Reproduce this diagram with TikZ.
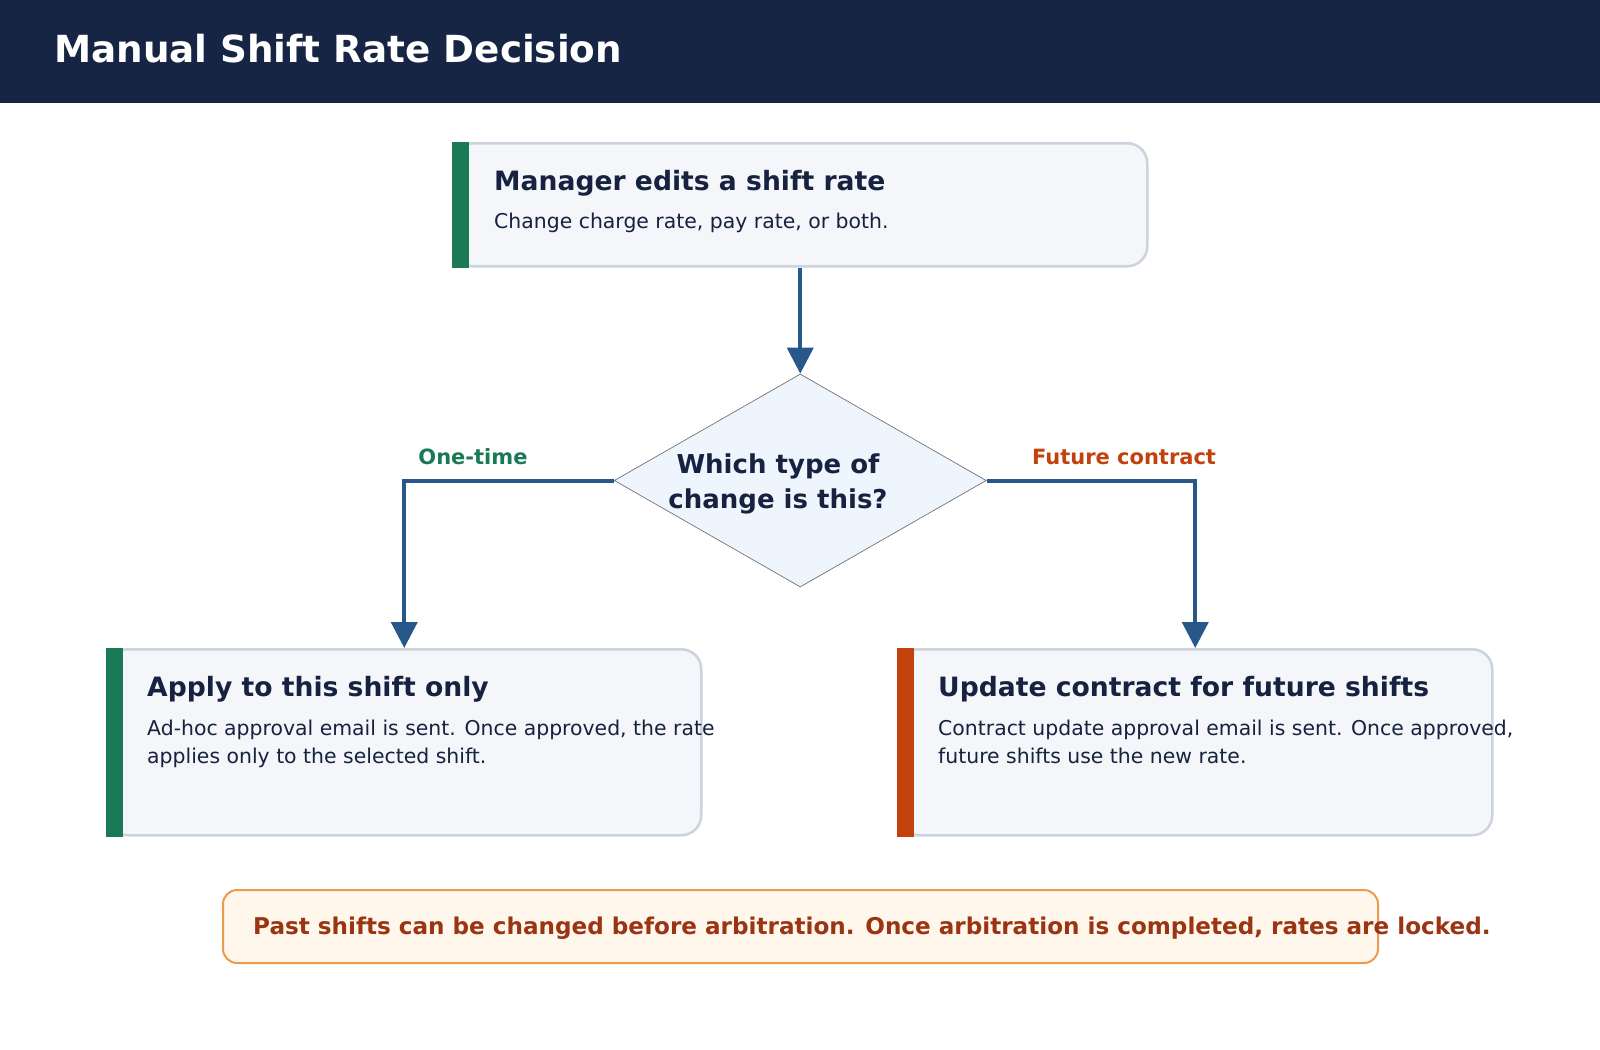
\documentclass[tikz,border=0pt]{standalone}
\usepackage{fontspec}
\setmainfont{DejaVu Sans}
\usetikzlibrary{arrows.meta,shapes.geometric,positioning}

\definecolor{navy}{HTML}{172544}
\definecolor{ink}{HTML}{16223F}
\definecolor{flowblue}{HTML}{28588A}
\definecolor{okgreen}{HTML}{1A7A56}
\definecolor{rust}{HTML}{C2410C}
\definecolor{boxfill}{HTML}{F4F6FA}
\definecolor{boxline}{HTML}{CBD3DE}
\definecolor{qfill}{HTML}{EEF5FD}
\definecolor{notefill}{HTML}{FFF6EC}
\definecolor{noteline}{HTML}{EC9A4C}
\definecolor{notetext}{HTML}{9A3412}

\tikzset{
  card/.style={draw=boxline, line width=2.5pt, fill=boxfill, rounded corners=20pt,
    anchor=north west, inner sep=0pt},
  cardtitle/.style={anchor=base west, inner sep=0pt, text=ink, font=\fontsize{26.6}{32}\selectfont\bfseries},
  cardbody/.style={anchor=base west, inner sep=0pt, text=ink, align=left, font=\fontsize{20.4}{28.5}\selectfont},
  decision/.style={diamond, draw=black!55, line width=0.7pt, fill=qfill, inner sep=0pt,
    minimum width=372pt, minimum height=213pt},
  flow/.style={draw=flowblue, line width=4pt, -{Triangle[width=26pt,length=26pt]}},
  branch/.style={anchor=base, inner sep=0pt, font=\fontsize{21}{25}\selectfont\bfseries},
}

\begin{document}
\begin{tikzpicture}[x=1pt, y=-1pt]
\useasboundingbox (0,0) rectangle (1600,1049);

% header
\fill[navy] (0,0) rectangle (1600,103);
\node[anchor=base west, inner sep=0pt, text=white, font=\fontsize{37.3}{44}\selectfont\bfseries] (title) at (54,63) {Manual Shift Rate Decision};

% start card
\node[card, minimum width=694pt, minimum height=123pt] (edit) at (452,142) {};
\fill[okgreen] (edit.north west) rectangle ([xshift=17pt]edit.south west);
\node[cardtitle] (edittitle) at (494,190) {Manager edits a shift rate};
\node[cardbody] (editbody) at (494,228.5) {Change charge rate, pay rate, or both.};

% decision
\node[decision] (q) at (edit.south |- 0,480.5) {};
\node[align=center, inner sep=0pt, text=ink, font=\fontsize{26}{35}\selectfont\bfseries] (qtext) at (778,484) {Which type of\\change is this?};

% outcome cards
\node[card, minimum width=594pt, minimum height=186pt] (apply) at (106,648) {};
\fill[okgreen] (apply.north west) rectangle ([xshift=17pt]apply.south west);
\node[cardtitle] (applytitle) at (147,696) {Apply to this shift only};
\node[cardbody] (applybody) at (147,763.5) {Ad-hoc approval email is sent. Once approved, the rate\\applies only to the selected shift.};

\node[card, minimum width=594pt, minimum height=186pt] (contract) at (897,648) {};
\fill[rust] (contract.north west) rectangle ([xshift=17pt]contract.south west);
\node[cardtitle] (contracttitle) at (938,696) {Update contract for future shifts};
\node[cardbody] (contractbody) at (938,763.5) {Contract update approval email is sent. Once approved,\\future shifts use the new rate.};

% connectors
\draw[flow] (edit.south) -- (q.north);
\draw[flow] (q.west) -| (apply.north);
\draw[flow] (q.east) -| (contract.north);
\node[branch, text=okgreen] (onetime) at (473,464) {One-time};
\node[branch, text=rust] (future) at (1124,464) {Future contract};

% note
\node[draw=noteline, line width=2pt, fill=notefill, rounded corners=14pt, anchor=north west,
  minimum width=1155pt, minimum height=73pt, inner sep=0pt] (note) at (222,889) {};
\node[anchor=base west, inner sep=0pt, text=notetext, font=\fontsize{23.1}{27}\selectfont\bfseries] (notetxt) at (253,934) {Past shifts can be changed before arbitration. Once arbitration is completed, rates are locked.};
\end{tikzpicture}
\end{document}
